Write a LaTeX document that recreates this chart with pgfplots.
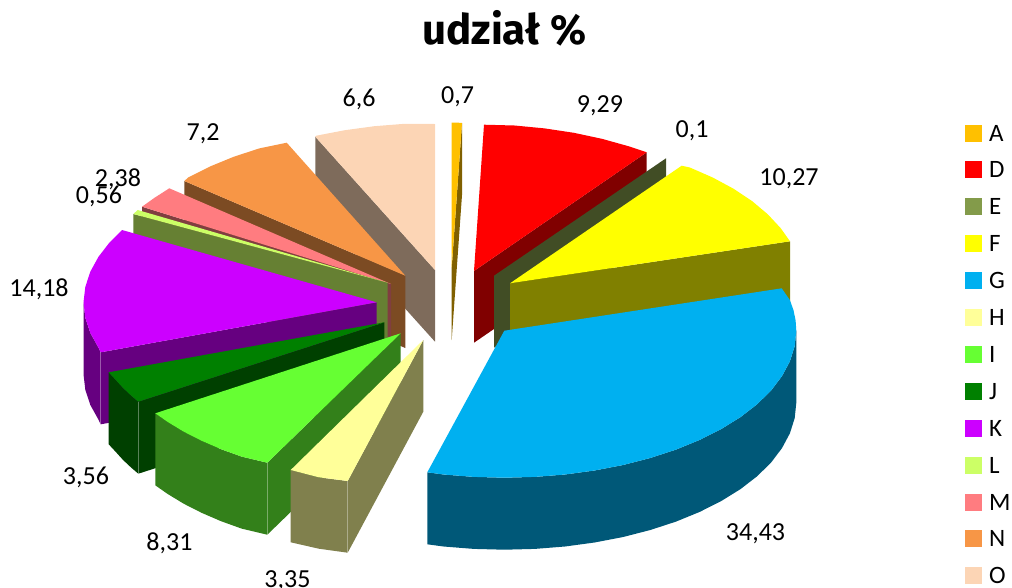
\documentclass[border=0pt]{standalone}
\usepackage{fontspec}
\setmainfont{Carlito}
\newfontfamily\titlefont{Fira Sans}
\usepackage{pgfplots}
\pgfplotsset{compat=1.18}
\definecolor{cA}{HTML}{FFC000}\definecolor{sA}{HTML}{806000}
\definecolor{cD}{HTML}{FF0000}\definecolor{sD}{HTML}{800000}
\definecolor{cE}{HTML}{839B4A}\definecolor{sE}{HTML}{414D25}
\definecolor{cF}{HTML}{FFFF00}\definecolor{sF}{HTML}{808000}
\definecolor{cG}{HTML}{00B0F0}\definecolor{sG}{HTML}{005878}
\definecolor{cH}{HTML}{FFFF99}\definecolor{sH}{HTML}{80804D}
\definecolor{cI}{HTML}{66FF33}\definecolor{sI}{HTML}{33801A}
\definecolor{cJ}{HTML}{008000}\definecolor{sJ}{HTML}{004000}
\definecolor{cK}{HTML}{CC00FF}\definecolor{sK}{HTML}{660080}
\definecolor{cL}{HTML}{CCFF66}\definecolor{sL}{HTML}{668033}
\definecolor{cM}{HTML}{FF7C80}\definecolor{sM}{HTML}{803E40}
\definecolor{cN}{HTML}{F79646}\definecolor{sN}{HTML}{7C4B23}
\definecolor{cO}{HTML}{FCD5B5}\definecolor{sO}{HTML}{7E6B5B}
\newcommand{\lab}[3]{\node[anchor=base,inner sep=0pt,font=\fontsize{26}{30}\selectfont] at (axis cs:#1,#2) {#3};}
\begin{document}
\begin{tikzpicture}
\useasboundingbox (0,0) rectangle (1012pt,587pt);
\begin{axis}[
  scale only axis, width=1012pt, height=587pt,
  xmin=0, xmax=1012, ymin=0, ymax=587, y dir=reverse,
  axis lines=none, clip=false,
  legend cell align=left,
  legend style={at={(axis cs:965,124)},anchor=north west,draw=none,fill=none,
    inner sep=0pt,outer sep=0pt,row sep=19.4pt,
    font=\fontsize{25}{25}\selectfont,
    nodes={inner sep=0pt,text height=17pt,text depth=0pt}},
  legend image code/.code={\fill[#1,draw=none] (0pt,-9pt) rectangle (17pt,8pt);},
]
\addlegendimage{fill=cA}\addlegendentry{\hspace{7pt}A}
\addlegendimage{fill=cD}\addlegendentry{\hspace{7pt}D}
\addlegendimage{fill=cE}\addlegendentry{\hspace{7pt}E}
\addlegendimage{fill=cF}\addlegendentry{\hspace{7pt}F}
\addlegendimage{fill=cG}\addlegendentry{\hspace{7pt}G}
\addlegendimage{fill=cH}\addlegendentry{\hspace{7pt}H}
\addlegendimage{fill=cI}\addlegendentry{\hspace{7pt}I}
\addlegendimage{fill=cJ}\addlegendentry{\hspace{7pt}J}
\addlegendimage{fill=cK}\addlegendentry{\hspace{7pt}K}
\addlegendimage{fill=cL}\addlegendentry{\hspace{7pt}L}
\addlegendimage{fill=cM}\addlegendentry{\hspace{7pt}M}
\addlegendimage{fill=cN}\addlegendentry{\hspace{7pt}N}
\addlegendimage{fill=cO}\addlegendentry{\hspace{7pt}O}

% O
\addplot[forget plot,fill=sO,draw=none] coordinates {(315.3,136.7)(435,270)(435,341.7)(315.3,208.7)} --cycle;
\addplot[forget plot,fill=cO,draw=none] coordinates {(435,124)(404.5,123.8)(374.3,126.2)(344.8,130.2)(316.2,135.7)(315.3,136.7)(435,270)} --cycle;
% N
\addplot[forget plot,fill=sN,draw=none] coordinates {(184.3,181)(405.3,275.7)(405.3,348)(184.3,253)} --cycle;
\addplot[forget plot,fill=cN,draw=none] coordinates {(286.7,142.7)(259.3,148.4)(233.6,156.8)(210,166.5)(188.3,177.4)(184.3,181)(405.3,275.7)} --cycle;
% M
\addplot[forget plot,fill=sM,draw=none] coordinates {(142,206.7)(391,284)(391,356)(142,278.7)} --cycle;
\addplot[forget plot,fill=cM,draw=none] coordinates {(169.3,188.3)(154.8,197.6)(142,206.7)(391,284)} --cycle;
% L
\addplot[forget plot,fill=sL,draw=none] coordinates {(133.3,214)(387.7,282.7)(387.7,354.7)(133.3,286)} --cycle;
\addplot[forget plot,fill=cL,draw=none] coordinates {(137.7,210)(133.3,214)(387.7,282.7)} --cycle;
% K
\addplot[forget plot,fill=sK,draw=none] coordinates {(83.5,302.3)(85.3,317.7)(90.3,332.9)(98.5,347.7)(100.7,352.3)(376.7,302.3)(376.7,374.3)(100.7,424.3)(98.5,419.7)(90.3,404.9)(85.3,389.7)(83.5,374.3)} --cycle;
\addplot[forget plot,fill=cK,draw=none] coordinates {(122,230)(109.5,242.5)(98.4,256.9)(90.3,271.7)(85.3,286.9)(83.5,302.3)(85.3,317.7)(90.3,332.9)(98.5,347.7)(100.7,352.3)(376.7,302.3)} --cycle;
% J
\addplot[forget plot,fill=sJ,draw=none] coordinates {(108.7,372.3)(115.6,379.7)(123,387.9)(131.4,395.8)(138.3,401.7)(384.3,322.3)(384.3,394.3)(138.3,473.7)(131.4,467.8)(123,459.9)(115.6,451.7)(108.7,444.3)} --cycle;
\addplot[forget plot,fill=cJ,draw=none] coordinates {(108.7,372.3)(115.6,379.7)(123,387.9)(131.4,395.8)(138.3,401.7)(384.3,322.3)} --cycle;
% I
\addplot[forget plot,fill=sI,draw=none] coordinates {(155.3,413.3)(167.4,421.8)(183.7,431.7)(201.6,440.8)(220.8,449.1)(241.6,456.6)(267.3,462.7)(400.7,333.3)(400.7,405.3)(267.3,534.7)(241.6,528.6)(220.8,521.1)(201.6,512.8)(183.7,503.7)(167.4,493.8)(155.3,485.3)} --cycle;
\addplot[forget plot,fill=cI,draw=none] coordinates {(155.3,413.3)(167.4,421.8)(183.7,431.7)(201.6,440.8)(220.8,449.1)(241.6,456.6)(267.3,462.7)(400.7,333.3)} --cycle;
% H
\addplot[forget plot,fill=sH,draw=none] coordinates {(290.7,470)(318.8,477.3)(347.7,481)(423.3,340)(423.3,411.7)(347.7,552.7)(318.8,548.7)(290.7,542.3)} --cycle;
\addplot[forget plot,fill=cH,draw=none] coordinates {(290.7,470)(318.8,477.3)(347.7,481)(423.3,340)} --cycle;
% D
\addplot[forget plot,fill=sD,draw=none] coordinates {(646.7,152.3)(474,271)(474,342.7)(646.7,224.3)} --cycle;
\addplot[forget plot,fill=cD,draw=none] coordinates {(484,124.7)(514.6,125.5)(544.7,128.4)(573.9,132.8)(601.9,138.8)(628.8,146.3)(646.7,152.3)(474,271)} --cycle;
% E
\addplot[forget plot,fill=sE,draw=none] coordinates {(666,158.3)(494,275.7)(494,347.7)(666,230.3)} --cycle;
% F
\addplot[forget plot,fill=sF,draw=none] coordinates {(790,241.3)(510,283.3)(510,355.3)(790,313.3)} --cycle;
\addplot[forget plot,fill=cF,draw=none] coordinates {(790,241.3)(780.7,228.2)(767.8,214.3)(752.1,201.1)(733.7,188.8)(712.9,177.6)(689.9,167.5)(681.7,165.7)(510,283.3)} --cycle;
% G
\addplot[forget plot,fill=sG,draw=none] coordinates {(796.3,330.7)(794.7,346.1)(789.9,361.3)(782,376.1)(771.1,390.5)(757.2,404.2)(740.5,417.1)(721.3,429)(699.7,439.9)(676,449.6)(650.3,458)(623.1,465)(594.5,470.5)(565,474.5)(534.8,476.9)(504.3,477.7)(473.8,476.9)(443.6,474.5)(427.3,472.3)(427.3,544.3)(443.6,546.5)(473.8,548.9)(504.3,549.7)(534.8,548.9)(565,546.5)(594.5,542.5)(623.1,537)(650.3,530)(676,521.6)(699.7,511.9)(721.3,501)(740.5,489.1)(757.2,476.2)(771.1,462.5)(782,448.1)(789.9,433.3)(794.7,418.1)(796.3,402.7)} --cycle;
\addplot[forget plot,fill=cG,draw=none] coordinates {(781.7,288.3)(789.9,300.1)(793.5,310.2)(795.6,320.4)(796.3,330.7)(794.7,346.1)(789.9,361.3)(782,376.1)(771.1,390.5)(757.2,404.2)(740.5,417.1)(721.3,429)(699.7,439.9)(676,449.6)(650.3,458)(623.1,465)(594.5,470.5)(565,474.5)(534.8,476.9)(504.3,477.7)(473.8,476.9)(443.6,474.5)(427.3,472.3)(504.3,330.7)} --cycle;
% A
\addplot[forget plot,fill=sA,draw=none] coordinates {(462,123)(451.7,268)(451.7,340)(462,195)} --cycle;
\addplot[forget plot,fill=cA,draw=none] coordinates {(451.7,122.7)(457,122.6)(462,123)(451.7,268)} --cycle;
% seams
\addplot[forget plot,draw=white,opacity=.35,line width=.6pt] coordinates {(100.7,352.3)(100.7,424.3)};
\addplot[forget plot,draw=white,opacity=.35,line width=.6pt] coordinates {(138.3,401.7)(138.3,473.7)};
\addplot[forget plot,draw=white,opacity=.35,line width=.6pt] coordinates {(267.3,462.7)(267.3,534.7)};
\addplot[forget plot,draw=white,opacity=.35,line width=.6pt] coordinates {(347.7,481)(347.7,552.7)};

\lab{359}{106}{6,6}
\lab{457.5}{103}{0,7}
\lab{600}{112}{9,29}
\lab{692}{137}{0,1}
\lab{789}{185}{10,27}
\lab{755.5}{540}{34,43}
\lab{287.5}{587}{3,35}
\lab{169.5}{550}{8,31}
\lab{86}{484}{3,56}
\lab{39}{296}{14,18}
\lab{99}{203}{0,56}
\lab{118}{186}{2,38}
\lab{203}{140}{7,2}
\node[anchor=base,inner sep=0pt,font=\fontsize{42}{48}\selectfont\titlefont\bfseries] at (axis cs:504.5,44) {udział \%};
\end{axis}
\end{tikzpicture}
\end{document}
